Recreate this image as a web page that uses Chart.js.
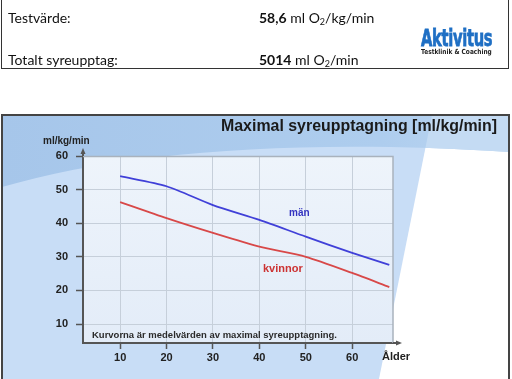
<!DOCTYPE html>
<html><head><meta charset="utf-8">
<script src="https://cdn.jsdelivr.net/npm/chart.js@4.4.1/dist/chart.umd.min.js"></script>
<style>
html,body{margin:0;padding:0;background:#fff;width:512px;height:379px;overflow:hidden;}
#hdr{position:absolute;left:1px;top:-2px;width:506px;height:69px;border:1.5px solid #333;font-family:Lato,"Open Sans",sans-serif;font-size:14px;color:#111;}
.t{position:absolute;white-space:nowrap;}
.b{font-weight:bold;}
sub{font-size:9px;vertical-align:-2px;line-height:0;}
#logo1{position:absolute;left:421px;top:25px;font-family:"DejaVu Sans",sans-serif;font-weight:bold;font-size:23px;line-height:26px;color:#1f6fc4;-webkit-text-stroke:0.8px #1f6fc4;transform-origin:left top;white-space:nowrap;display:inline-block;letter-spacing:-0.5px;}
#logo2{position:absolute;left:421px;top:48px;font-family:"DejaVu Sans",sans-serif;font-weight:bold;font-size:7px;line-height:8px;color:#222;transform-origin:left top;white-space:nowrap;display:inline-block;}
#wrap{position:absolute;left:0;top:0;width:512px;height:379px;}
</style></head>
<body>
<div id="wrap"><canvas id="c" width="512" height="379" style="width:512px;height:379px"></canvas></div>
<div id="hdr">
  <div class="t" style="left:6px;top:10px">Testvärde:</div>
  <div class="t" style="left:257px;top:10px"><span class="b">58,6</span>&nbsp;ml O<sub>2</sub>/kg/min</div>
  <div class="t" style="left:6px;top:52px">Totalt syreupptag:</div>
  <div class="t" style="left:257px;top:52px"><span class="b">5014</span>&nbsp;ml O<sub>2</sub>/min</div>
</div>
<div id="logo1">Aktivitus</div>
<div id="logo2">Testklinik &amp; Coaching</div>
<script>
// ---- data ----
const ages = [10, 20, 30, 40, 50, 60, 68];
const men = [54, 51, 45.4, 41, 36, 31.2, 27.6];
const women = [46.3, 41.5, 37.1, 33, 30, 25.2, 21];
const xTicks = [10, 20, 30, 40, 50, 60];
const yTicks = [10, 20, 30, 40, 50, 60];
const chartTitle = "Maximal syreupptagning [ml/kg/min]";
const yUnit = "ml/kg/min";
const xName = "Ålder";
const menLabel = "män";
const womenLabel = "kvinnor";
const note = "Kurvorna är medelvärden av maximal syreupptagning.";

// fit the logo texts to the reference width
['logo1', 'logo2'].forEach(id => {
  const el = document.getElementById(id);
  el.style.transform = 'scaleX(' + (71 / el.offsetWidth) + ')';
});

const F = '"Liberation Sans", Arial, sans-serif';

const bgPlugin = {
  id: 'bg',
  beforeDraw(chart) {
    const ctx = chart.ctx, a = chart.chartArea;
    ctx.save();
    const top = 115, L = 2, R = 509, B = 379;
    ctx.fillStyle = '#ffffff';
    ctx.fillRect(L, top, R - L, B - top);
    const dx = y => 379 + (425 - 379) * (379 - y) / (379 - 150);
    ctx.fillStyle = '#c8ddf6';
    ctx.beginPath();
    ctx.moveTo(L, top); ctx.lineTo(dx(top), top); ctx.lineTo(dx(B), B); ctx.lineTo(L, B); ctx.closePath(); ctx.fill();
    const band = () => {
      ctx.beginPath();
      ctx.moveTo(L, top);
      ctx.lineTo(L, 187);
      ctx.bezierCurveTo(120, 152, 300, 138, R, 152);
      ctx.lineTo(R, top);
      ctx.closePath();
    };
    ctx.save();
    band(); ctx.clip();
    const g = ctx.createLinearGradient(L, 0, R, 0);
    g.addColorStop(0, '#a6c6ea'); g.addColorStop(0.75, '#aecdee'); g.addColorStop(1, '#bcd6f1');
    ctx.fillStyle = g;
    ctx.fillRect(L, top, R - L, 80);
    ctx.fillStyle = '#c4dbf3';
    ctx.beginPath();
    ctx.moveTo(dx(top), top); ctx.lineTo(R, top); ctx.lineTo(R, 200); ctx.lineTo(dx(200), 200); ctx.closePath(); ctx.fill();
    ctx.restore();
    const pg = ctx.createLinearGradient(0, a.top, 0, a.bottom);
    pg.addColorStop(0, '#eef4fb'); pg.addColorStop(1, '#e3ecf8');
    ctx.fillStyle = pg;
    ctx.fillRect(a.left, a.top, a.right - a.left, a.bottom - a.top);
    ctx.strokeStyle = '#444'; ctx.lineWidth = 2;
    ctx.strokeRect(L, top, R - L, B - top + 5);
    ctx.restore();
  },
  afterDraw(chart) {
    const ctx = chart.ctx, a = chart.chartArea;
    ctx.save();
    ctx.strokeStyle = '#a9b2bd'; ctx.lineWidth = 1.5;
    ctx.beginPath();
    ctx.moveTo(a.left, a.top + 0.5); ctx.lineTo(a.right, a.top + 0.5); ctx.lineTo(a.right, a.bottom);
    ctx.stroke();
    ctx.strokeStyle = '#555'; ctx.fillStyle = '#555'; ctx.lineWidth = 2;
    ctx.beginPath(); ctx.moveTo(a.left, a.top); ctx.lineTo(a.left, a.top - 5); ctx.stroke();
    ctx.beginPath(); ctx.moveTo(a.left, a.top - 8); ctx.lineTo(a.left - 2.5, a.top - 2); ctx.lineTo(a.left + 2.5, a.top - 2); ctx.closePath(); ctx.fill();
    ctx.beginPath(); ctx.moveTo(a.right, a.bottom); ctx.lineTo(a.right + 5, a.bottom); ctx.stroke();
    ctx.beginPath(); ctx.moveTo(a.right + 9, a.bottom); ctx.lineTo(a.right + 3, a.bottom - 2.5); ctx.lineTo(a.right + 3, a.bottom + 2.5); ctx.closePath(); ctx.fill();
    ctx.textBaseline = 'middle';
    ctx.fillStyle = '#1a1a1a';
    ctx.font = 'bold 16px ' + F;
    ctx.textAlign = 'right';
    ctx.fillText(chartTitle, 497, 127, 276);
    ctx.font = 'bold 10px ' + F;
    ctx.textAlign = 'left';
    ctx.fillStyle = '#222';
    ctx.fillText(yUnit, 43, 141, 53);
    ctx.font = 'bold 11px ' + F;
    ctx.fillText(xName, 382, 357);
    ctx.font = 'bold 9.5px ' + F;
    ctx.fillStyle = '#2a2a2a';
    ctx.fillText(note, 92, 335, 245);
    ctx.font = 'bold 10px ' + F;
    ctx.fillStyle = '#3333c0';
    ctx.fillText(menLabel, 289, 213);
    ctx.font = 'bold 11px ' + F;
    ctx.fillStyle = '#cc3333';
    ctx.fillText(womenLabel, 263, 269);
    ctx.restore();
  }
};

new Chart(document.getElementById('c'), {
  type: 'line',
  data: {
    datasets: [
      { label: menLabel, data: ages.map((a, i) => ({ x: a, y: men[i] })), borderColor: '#4040d8', borderWidth: 1.8, pointRadius: 0, tension: 0.25, fill: false },
      { label: womenLabel, data: ages.map((a, i) => ({ x: a, y: women[i] })), borderColor: '#d84848', borderWidth: 1.8, pointRadius: 0, tension: 0.25, fill: false }
    ]
  },
  options: {
    responsive: false, animation: false, devicePixelRatio: 1,
    layout: { padding: { left: 0, top: 156, right: 119, bottom: 0 } },
    plugins: { legend: { display: false }, tooltip: { enabled: false }, title: { display: false } },
    scales: {
      x: {
        type: 'linear', min: 2, max: 68.8,
        afterFit: s => { s.height = 36; },
        afterBuildTicks: s => { s.ticks = xTicks.map(v => ({ value: v })); },
        grid: { color: '#c6cfda', lineWidth: 1, tickColor: '#555', tickLength: 6, tickWidth: 1.5 },
        border: { display: true, color: '#555', width: 2 },
        ticks: { font: { family: F, size: 11, weight: 'bold' }, color: '#222', padding: 2, maxRotation: 0, callback: v => String(v) }
      },
      y: {
        type: 'linear', min: 4.35, max: 60,
        afterFit: s => { s.width = 83; },
        afterBuildTicks: s => { s.ticks = yTicks.map(v => ({ value: v })); },
        grid: { color: '#c6cfda', lineWidth: 1, tickColor: '#555', tickLength: 7, tickWidth: 1.5 },
        border: { display: true, color: '#555', width: 2 },
        ticks: { font: { family: F, size: 11, weight: 'bold' }, color: '#222', padding: 8, callback: v => String(v) }
      }
    }
  },
  plugins: [bgPlugin]
});
</script>
</body></html>
